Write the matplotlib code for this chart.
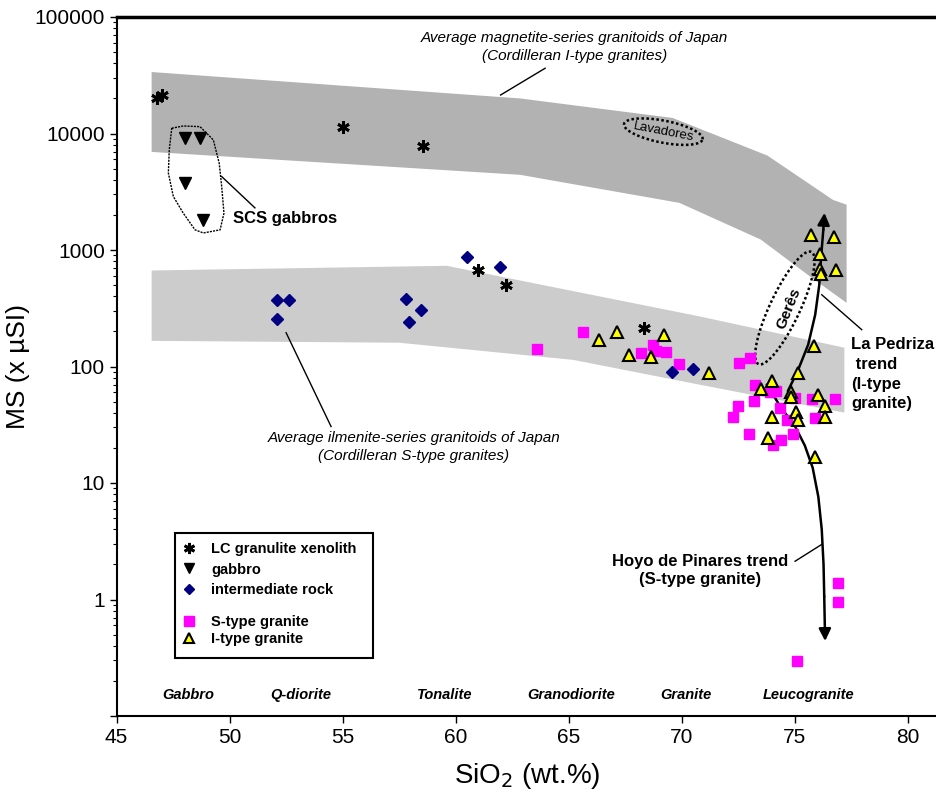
import matplotlib
matplotlib.use("Agg")
import matplotlib.pyplot as plt
import numpy as np
from matplotlib.lines import Line2D
from matplotlib.patches import Rectangle
from matplotlib.ticker import LogLocator, NullFormatter

plt.rcParams['font.family'] = ['Liberation Sans', 'DejaVu Sans']

# ========================== Data ==========================
# LC granulite xenolith
lc_x = [46.8, 47.0, 55.0, 58.57, 61.0, 62.23, 68.35]
lc_y = [20000, 21500, 11450, 7870, 676, 502, 216]

# gabbro (SCS gabbros)
gab_x = [48.03, 48.69, 48.03, 48.84]
gab_y = [9120, 9120, 3790, 1815]

# intermediate rock
int_x = [52.11, 52.64, 52.11, 57.81, 58.46, 57.95, 60.49, 61.96, 69.59, 70.49]
int_y = [374, 374, 257, 379, 303, 239, 869, 708, 89, 96]

# S-type granite
s_x = [63.59, 65.62, 68.19, 68.72, 68.87, 69.3, 69.89,
       72.55, 73.03, 73.25, 72.51, 72.29, 73.2, 73.0, 73.9, 74.16, 74.35,
       74.68, 74.03, 74.4, 74.95, 75.0, 75.76, 75.9, 76.79,
       76.93, 76.93, 75.12]
s_y = [141, 196, 131, 152, 137, 133, 105,
       107, 118, 70, 46, 37, 51, 26.5, 60, 62, 44,
       35, 21, 23.6, 26.6, 54, 52.6, 36, 53,
       1.39, 0.95, 0.296]

# I-type granite
i_x = [66.33, 67.14, 69.2, 67.66, 68.65, 71.23,
       75.73, 76.76, 76.14, 76.14, 76.17, 76.82, 75.86, 75.14, 73.99, 73.5,
       74.84, 74.84, 76.05, 76.35, 76.35, 74.01, 75.06, 75.16, 73.81, 75.9]
i_y = [170, 196, 187, 126, 120, 88,
       1350, 1290, 927, 685, 621, 676, 151, 88, 74.5, 64,
       60, 55, 57, 46, 37, 37, 41, 35, 24.4, 16.7]

# Average magnetite-series band (Japan)
mag_up_x = [46.55, 62.85, 69.6, 73.8, 76.7, 77.3]
mag_up_y = [33700, 20000, 13600, 6460, 2690, 2450]
mag_lo_x = [46.55, 62.85, 69.9, 73.5, 75.7, 77.3]
mag_lo_y = [6950, 4420, 2540, 1230, 589, 352]

# Average ilmenite-series band (Japan)
ilm_up_x = [46.55, 59.6, 70.8, 77.2]
ilm_up_y = [667, 732, 269, 145]
ilm_lo_x = [46.55, 57.5, 65.2, 70.8, 77.2]
ilm_lo_y = [166, 160, 114, 69.8, 40.2]

# trends
ped_x = [74.71, 75.16, 75.6, 75.91, 76.09, 76.18, 76.27, 76.32]
ped_y = [62, 94, 154, 278, 501, 910, 1490, 2084]
hoyo_x = [73.78, 74.36, 75.02, 75.45, 75.8, 76.05, 76.2, 76.28, 76.31, 76.35]
hoyo_y = [69.8, 45.5, 30.6, 21.0, 13.5, 7.6, 4.0, 2.0, 1.07, 0.44]

# SCS gabbros outline
scs_x = [47.44, 47.95, 48.69, 49.28, 49.54, 49.65, 49.75, 49.58, 48.84,
         48.47, 47.95, 47.51, 47.29, 47.33, 47.44]
scs_y = [11100, 11600, 11450, 8810, 5560, 3510, 2070, 1490, 1400,
         1490, 2070, 2880, 4570, 7240, 11100]

rock_names = ["Gabbro", "Q-diorite", "Tonalite", "Granodiorite", "Granite", "Leucogranite"]
rock_x = [48.17, 53.16, 59.53, 65.1, 70.18, 75.61]

x_ticks = [45, 50, 55, 60, 65, 70, 75, 80]
y_ticks = [0.1, 1, 10, 100, 1000, 10000, 100000]
y_tick_labels = ["", "1", "10", "100", "1000", "10000", "100000"]

# ========================== Plot ==========================
W, H = 937, 793
fig = plt.figure(figsize=(W / 100, H / 100), dpi=100)
ax_rect = [116.6 / W, 77 / H, 820.4 / W, 699 / H]
ax = fig.add_axes(ax_rect)
XMIN, XMAX = 45, 81.3
ax.set_xlim(XMIN, XMAX)
ax.set_yscale('log')
ax.set_ylim(0.1, 100000)

# pixels per data unit (x) and per decade (y), used for tilted outlines
sx = 820.4 / (XMAX - XMIN)
sy = 699 / 6.0


def ellipse_xy(cx, cy, a_px, b_px, ang_deg, n=120):
    t = np.linspace(0, 2 * np.pi, n)
    ang = np.radians(ang_deg)
    dx = a_px * np.cos(t) * np.cos(ang) - b_px * np.sin(t) * np.sin(ang)
    dy = a_px * np.cos(t) * np.sin(ang) + b_px * np.sin(t) * np.cos(ang)
    return cx + dx / sx, 10 ** (np.log10(cy) + dy / sy)


# bands
ax.fill(mag_up_x + mag_lo_x[::-1], mag_up_y + mag_lo_y[::-1],
        color='#b2b2b2', lw=0, zorder=1)
ax.fill(ilm_up_x + ilm_lo_x[::-1], ilm_up_y + ilm_lo_y[::-1],
        color='#cccccc', lw=0, zorder=1)

# outlines
ax.plot(scs_x, scs_y, color='k', lw=1, ls=(0, (1.5, 0.8)), zorder=2)
ex, ey = ellipse_xy(69.19, 10370, 40, 11, -11)
ax.plot(ex, ey, color='k', lw=1.8, ls=(0, (1, 1)), zorder=2)
ax.text(69.19, 10370, "Lavadores", rotation=-11, fontsize=9.5,
        ha='center', va='center', zorder=3)
ex, ey = ellipse_xy(74.57, 318, 62, 15, 64.8)
ax.plot(ex, ey, color='k', lw=1.8, ls=(0, (1, 1)), zorder=2)
ax.text(74.75, 315, "Gerês", rotation=68, fontsize=11, fontweight='bold',
        ha='center', va='center', zorder=3)

# trends
ax.plot(ped_x[:-1], ped_y[:-1], color='k', lw=1.8, zorder=3)
ax.annotate('', xy=(ped_x[-1], ped_y[-1]), xytext=(ped_x[-2], ped_y[-2]),
            arrowprops=dict(arrowstyle='-|>', color='k', lw=1.8,
                            mutation_scale=18, shrinkA=0, shrinkB=0), zorder=3)
ax.plot(hoyo_x[:-1], hoyo_y[:-1], color='k', lw=1.8, zorder=3)
ax.annotate('', xy=(hoyo_x[-1], hoyo_y[-1]), xytext=(hoyo_x[-2], hoyo_y[-2]),
            arrowprops=dict(arrowstyle='-|>', color='k', lw=1.8,
                            mutation_scale=18, shrinkA=0, shrinkB=0), zorder=3)

# points
ast = (6, 2, 0)
ax.plot(s_x, s_y, ls='none', marker='s', ms=7, mfc='#ff00ff', mec='#ff00ff', zorder=4)
ax.plot(i_x, i_y, ls='none', marker='^', ms=8, mfc='#ffff00', mec='k', mew=1.5, zorder=5)
ax.plot(int_x, int_y, ls='none', marker='D', ms=6, mfc='#000080', mec='#000080', zorder=4)
ax.plot(gab_x, gab_y, ls='none', marker='v', ms=8, mfc='k', mec='k', zorder=4)
ax.plot(lc_x, lc_y, ls='none', marker=ast, ms=9, mec='k', mew=2, zorder=6)

# labels and leader lines
ax.text(65.25, 55300, "Average magnetite-series granitoids of Japan\n(Cordilleran I-type granites)",
        style='italic', fontsize=11, ha='center', va='center', linespacing=1.35)
ax.plot([61.99, 63.96], [21400, 36300], color='k', lw=1)
ax.text(58.16, 20.5, "Average ilmenite-series granitoids of Japan\n(Cordilleran S-type granites)",
        style='italic', fontsize=11, ha='center', va='center', linespacing=1.35)
ax.plot([52.5, 54.49], [195, 30.5], color='k', lw=1)
ax.text(50.16, 1855, "SCS gabbros", fontsize=12, fontweight='bold', ha='left', va='center')
ax.plot([49.65, 51.12], [4270, 2300], color='k', lw=1)
ax.text(77.49, 86, "La Pedriza\n trend\n(I-type\ngranite)", fontsize=12,
        fontweight='bold', ha='left', va='center', linespacing=1.4)
ax.plot([76.2, 77.97], [413, 207], color='k', lw=1)
ax.text(70.8, 1.78, "Hoyo de Pinares trend\n(S-type granite)", fontsize=12,
        fontweight='bold', ha='center', va='center', multialignment='center',
        linespacing=1.25)
ax.plot([75.02, 76.2], [2.13, 2.97], color='k', lw=1)

for name, xx in zip(rock_names, rock_x):
    ax.text(xx, 0.150, name, style='italic', fontweight='bold', fontsize=10.5,
            ha='center', va='center')

# legend (two blocks in one frame)
h1 = [Line2D([], [], ls='none', marker=ast, ms=8, mec='k', mew=2, label='LC granulite xenolith'),
      Line2D([], [], ls='none', marker='v', ms=7, mfc='k', mec='k', label='gabbro'),
      Line2D([], [], ls='none', marker='D', ms=5.5, mfc='#000080', mec='#000080', label='intermediate rock')]
h2 = [Line2D([], [], ls='none', marker='s', ms=7, mfc='#ff00ff', mec='#ff00ff', label='S-type granite'),
      Line2D([], [], ls='none', marker='^', ms=7, mfc='#ffff00', mec='k', mew=1.5, label='I-type granite')]
lprop = dict(weight='bold', size=10.5)
leg1 = ax.legend(handles=h1, loc='upper left', bbox_to_anchor=(0.078, 0.249),
                 frameon=False, prop=lprop, borderaxespad=0, borderpad=0,
                 handlelength=1.2, handletextpad=0.9, labelspacing=0.45)
ax.add_artist(leg1)
ax.legend(handles=h2, loc='upper left', bbox_to_anchor=(0.078, 0.144),
          frameon=False, prop=lprop, borderaxespad=0, borderpad=0,
          handlelength=1.2, handletextpad=0.9, labelspacing=0.2)
ax.add_patch(Rectangle((0.0712, 0.083), 0.2413, 0.179, transform=ax.transAxes,
                       fill=False, ec='k', lw=1.5, zorder=7))

# Axes formatting
ax.set_xticks(x_ticks)
ax.set_xticklabels([str(t) for t in x_ticks])
ax.set_yticks(y_ticks)
ax.set_yticklabels(y_tick_labels)
ax.yaxis.set_minor_locator(LogLocator(base=10, subs=np.arange(2, 10), numticks=20))
ax.yaxis.set_minor_formatter(NullFormatter())
ax.tick_params(axis='both', which='major', direction='out', length=5, width=1, labelsize=15)
ax.tick_params(axis='y', which='minor', direction='out', length=3, width=0.8)
ax.spines['right'].set_visible(False)
ax.spines['top'].set_linewidth(2.5)
ax.spines['left'].set_linewidth(1.5)
ax.spines['bottom'].set_linewidth(1.5)

ax.set_xlabel(r'SiO$_2$ (wt.%)', fontsize=20, labelpad=10)
ax.set_ylabel(r'MS (x µSI)', fontsize=19, labelpad=3)

fig.savefig('out.png', dpi=100)
